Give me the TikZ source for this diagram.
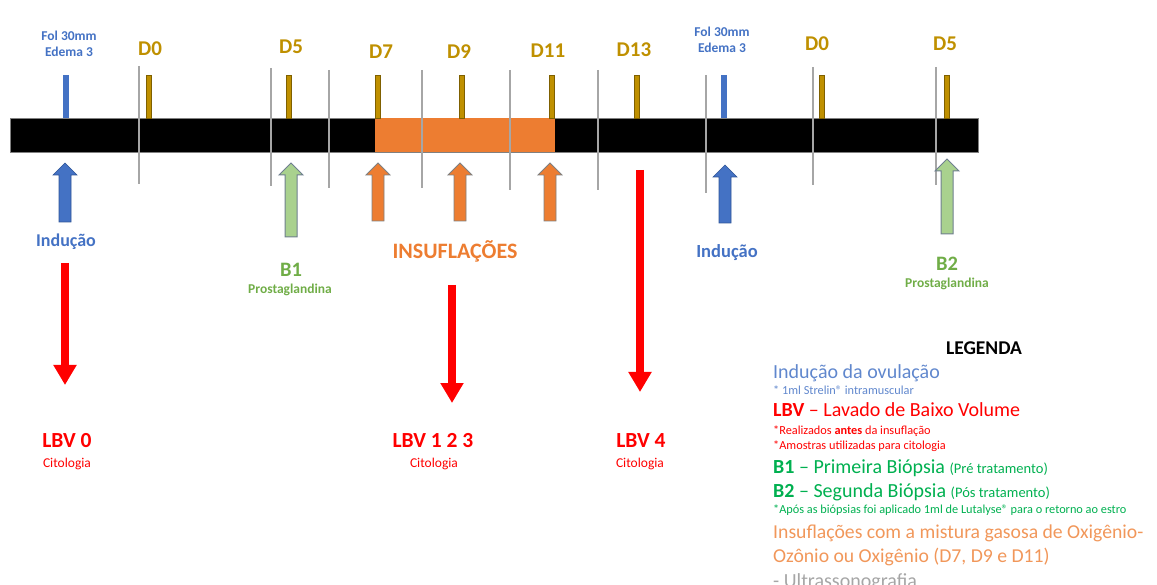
\documentclass[tikz,border=0pt]{standalone}
\usepackage{fontspec}
\setmainfont{Carlito}
\usetikzlibrary{arrows.meta}
\definecolor{dgold}{HTML}{BF9000}
\definecolor{dgoldline}{HTML}{7F6000}
\definecolor{fblue}{HTML}{4472C4}
\definecolor{fblueline}{HTML}{2F5597}
\definecolor{forange}{HTML}{ED7D31}
\definecolor{lgreen}{HTML}{A9D18E}
\definecolor{tgreen}{HTML}{70AD47}
\definecolor{lgcol}{HTML}{00B050}
\definecolor{sepgray}{HTML}{A6A6A6}
\definecolor{arrline}{HTML}{6F7F8F}
\newcommand{\fsz}[2][1.2]{\fontsize{#2}{#1\dimexpr #2pt\relax}\selectfont}
% block arrow pointing up: x, tip y, bottom y, style
\newcommand{\upblock}[4]{%
  \filldraw[#4] ({#1-6},#3) -- ({#1-6},{#2+12}) -- ({#1-12},{#2+12}) -- (#1,#2)
    -- ({#1+12},{#2+12}) -- ({#1+6},{#2+12}) -- ({#1+6},#3) -- cycle;}
\begin{document}
\begin{tikzpicture}[x=1pt,y=-1pt,
    daylbl/.style={text=dgold,font=\fsz{21}\bfseries,anchor=base,inner sep=0pt},
    follbl/.style={text=fblue,font=\fontsize{13.5}{16}\selectfont\bfseries,align=center,anchor=base,inner sep=0pt},
    biglbl/.style={font=\fsz{19}\bfseries,anchor=base,inner sep=0pt},
    smalllbl/.style={font=\fsz{13.5}\bfseries,anchor=base,inner sep=0pt},
    lbvlbl/.style={text=red,font=\fsz{21.5}\bfseries,anchor=base,inner sep=0pt},
    citlbl/.style={text=red,font=\fsz{13.5},anchor=base,inner sep=0pt},
    legbig/.style={font=\fsz{20},anchor=base west,inner sep=0pt},
    legsmall/.style={font=\fsz{12.3},anchor=base west,inner sep=0pt},
    tick/.style={fill=dgold,draw=dgoldline,line width=0.6pt},
    redarr/.style={red,line width=8pt,-{Triangle[width=22pt,length=20pt]}}]
\useasboundingbox (0,0) rectangle (1157,585);

% time bar
\filldraw[fill=black,draw=gray,line width=0.8pt] (10,118) rectangle (978,152);
\fill[forange] (375,118) rectangle (555,152);

% separators
\foreach \x/\ya/\yb in {139/66/184,271/68/186,329/70/188,422/70/188,510/70/190,
    598/70/190,706/75/193,813/67/185,936/67/185} {
    \draw[sepgray,line width=1.8pt] (\x,\ya) -- (\x,\yb);
}

% ticks
\foreach \x in {149,289,378,462,552,637,822,947} {
    \filldraw[tick] ({\x-2.5},75) rectangle ({\x+2.5},118);
}
\fill[fblue] (63,75) rectangle (69,118);
\fill[fblue] (721,75) rectangle (727,118);

% labels above the bar
\node[follbl] (fola) at (69,57) {Fol 30mm\\Edema 3};
\node[follbl] (folb) at (722,53) {Fol 30mm\\Edema 3};
\foreach \x/\y/\t/\n in {150/56/D0/da,291/54/D5/db,381/59/D7/dc,459/59/D9/dd,
    548/58/D11/de,634/57/D13/df,817/51/D0/dg,945/51/D5/dh} {
    \node[daylbl] (\n) at (\x,\y) {\t};
}

% arrows below the bar
\upblock{65}{163}{222}{fill=fblue,draw=fblueline,line width=0.6pt}
\upblock{725}{165}{223}{fill=fblue,draw=fblueline,line width=0.6pt}
\upblock{291}{163}{237}{fill=lgreen,draw=arrline,line width=1pt}
\upblock{947}{159}{234}{fill=lgreen,draw=arrline,line width=1pt}
\foreach \x in {378,460,550} {
    \upblock{\x}{163}{221}{fill=forange,draw=gray,line width=0.8pt}
}

\node[biglbl,text=fblue,font=\fsz{18}\bfseries] (inda) at (66,247) {Indução};
\node[biglbl,text=fblue,font=\fsz{18.5}\bfseries] (indb) at (727,258) {Indução};
\node[biglbl,text=tgreen,font=\fsz{20.5}\bfseries] (bone) at (291,277) {B1};
\node[smalllbl,text=tgreen] (pga) at (290,294) {Prostaglandina};
\node[biglbl,text=tgreen,font=\fsz{20.5}\bfseries] (btwo) at (947,271) {B2};
\node[smalllbl,text=tgreen] (pgb) at (947,288) {Prostaglandina};
\node[biglbl,text=forange,font=\fsz{22}\bfseries] (insf) at (455,259) {INSUFLAÇÕES};

% lavados
\coordinate (ra) at (65,263);
\coordinate (rb) at (65,385);
\coordinate (rc) at (452,285);
\coordinate (rd) at (452,403);
\coordinate (re) at (640,170);
\coordinate (rf) at (640,392);
\draw[redarr] (ra) -- (rb);
\draw[redarr] (rc) -- (rd);
\draw[redarr] (re) -- (rf);

\node[lbvlbl] (lbva) at (67,447) {LBV 0};
\node[citlbl] (cita) at (67,467) {Citologia};
\node[lbvlbl] (lbvb) at (433,447) {LBV 1 2 3};
\node[citlbl] (citb) at (434,467) {Citologia};
\node[lbvlbl] (lbvc) at (641,447) {LBV 4};
\node[citlbl] (citc) at (640,467) {Citologia};

% legend
\node[font=\fsz{19.5}\bfseries,anchor=base,inner sep=0pt] (leg) at (984,355) {LEGENDA};
\node[legbig,text=fblue!85] (lga) at (773,378) {Indução da ovulação};
\node[legsmall,text=fblue!85] (lgb) at (773,394) {* 1ml Strelin® intramuscular};
\node[legbig,text=red] (lgc) at (773,417) {\textbf{LBV} – Lavado de Baixo Volume};
\node[legsmall,text=red] (lgd) at (773,434) {*Realizados \textbf{antes} da insuflação};
\node[legsmall,text=red] (lge) at (773,449) {*Amostras utilizadas para citologia};
\node[legbig,text=lgcol] (lgf) at (773,473) {\textbf{B1} – Primeira Biópsia {\fsz{14.5}(Pré tratamento)}};
\node[legbig,text=lgcol] (lgg) at (773,497) {\textbf{B2} – Segunda Biópsia {\fsz{14.5}(Pós tratamento)}};
\node[legsmall,text=lgcol] (lgh) at (773,513) {*Após as biópsias foi aplicado 1ml de Lutalyse® para o retorno ao estro};
\node[legbig,text=forange!80,font=\fsz{19.7}] (lgi) at (773,538) {Insuflações com a mistura gasosa de Oxigênio-};
\node[legbig,text=forange!80,font=\fsz{19.7}] (lgj) at (773,562) {Ozônio ou Oxigênio (D7, D9 e D11)};
\node[legbig,text=sepgray] (lgk) at (773,587) {- Ultrassonografia};
\end{tikzpicture}
\end{document}
